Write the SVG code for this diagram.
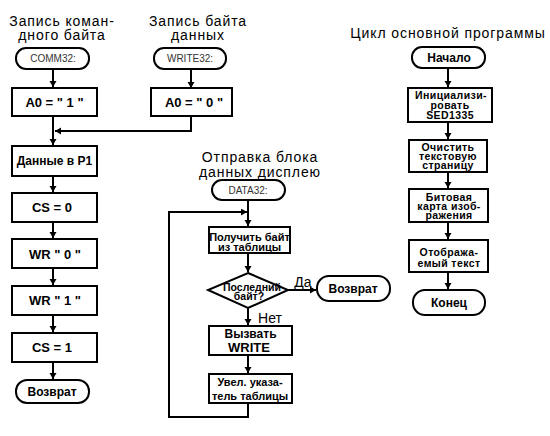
<svg xmlns="http://www.w3.org/2000/svg" width="550" height="436" viewBox="0 0 550 436">
<defs>
<marker id="ah" markerUnits="userSpaceOnUse" markerWidth="8" markerHeight="8" refX="6" refY="3.5" orient="auto">
<path d="M0,0 L6,3.5 L0,7 z" fill="#000"/>
</marker>
<style>
.box{fill:#fff;stroke:#000;stroke-width:2}
.ln{fill:none;stroke:#000;stroke-width:2}
.ar{marker-end:url(#ah)}
text{font-family:"Liberation Sans",Arial,sans-serif;text-anchor:middle;fill:#000}
.ti{font-size:14px;letter-spacing:0.9px}
.lb{font-size:10px;fill:#333}
.b{font-size:12px;font-weight:bold}
.b13{font-size:13px;font-weight:bold}
.s{font-size:11px;font-weight:bold}
.r{font-size:10.5px;font-weight:bold;letter-spacing:0.4px}
.d{font-size:10.5px;font-weight:bold}
.yn{font-size:14px}
</style>
</defs>
<rect width="550" height="436" fill="#fff"/>
<g id="titles">
<text class="ti" x="62" y="26">Запись коман-</text>
<text class="ti" x="62" y="40">дного байта</text>
<text class="ti" x="198" y="26">Запись байта</text>
<text class="ti" x="198" y="40">данных</text>
<text class="ti" x="260" y="162">Отправка блока</text>
<text class="ti" x="260" y="177">данных дисплею</text>
<text class="ti" x="448" y="38">Цикл основной программы</text>
</g>
<g id="connectors">
<path class="ln ar" d="M53,69 V87"/>
<path class="ln ar" d="M191,69 V88"/>
<path class="ln ar" d="M53,116 V145"/>
<path class="ln ar" d="M191,116 V131 H55"/>
<path class="ln ar" d="M53,176 V192"/>
<path class="ln ar" d="M53,222 V238"/>
<path class="ln ar" d="M53,268 V285"/>
<path class="ln ar" d="M53,315 V332"/>
<path class="ln ar" d="M53,362 V379"/>
<path class="ln ar" d="M248,200 V226"/>
<path class="ln ar" d="M248,403 V417 H169 V212 H247"/>
<path class="ln ar" d="M248,253 V272"/>
<path class="ln ar" d="M288,290 H316"/>
<path class="ln ar" d="M248,308 V325"/>
<path class="ln ar" d="M248,355 V373"/>
<path class="ln ar" d="M448,68 V87"/>
<path class="ln ar" d="M448,122 V139"/>
<path class="ln ar" d="M448,172 V188"/>
<path class="ln ar" d="M448,222 V239"/>
<path class="ln ar" d="M448,272 V289"/>
</g>
<g id="comm32"><rect class="box" x="16" y="48" width="73" height="21" rx="10"/><text class="lb" x="53" y="62">COMM32:</text></g>
<g id="a0_1"><rect class="box" x="12" y="88" width="85" height="28"/><text class="b13" x="54.5" y="107">A0 = " 1 "</text></g>
<g id="data_p1"><rect class="box" x="12" y="146" width="85" height="30"/><text class="b" x="54.5" y="165">Данные в P1</text></g>
<g id="cs0"><rect class="box" x="12" y="193" width="85" height="29"/><text class="b13" x="52" y="212">CS = 0</text></g>
<g id="wr0"><rect class="box" x="12" y="239" width="85" height="29"/><text class="b13" x="55" y="259">WR " 0 "</text></g>
<g id="wr1"><rect class="box" x="12" y="286" width="85" height="29"/><text class="b13" x="55" y="305">WR " 1 "</text></g>
<g id="cs1"><rect class="box" x="12" y="333" width="85" height="29"/><text class="b13" x="52" y="352">CS = 1</text></g>
<g id="ret1"><rect class="box" x="16" y="380" width="73" height="23" rx="11"/><text class="b" x="52" y="396">Возврат</text></g>
<g id="write32"><rect class="box" x="154" y="48" width="72" height="21" rx="10"/><text class="lb" x="190" y="62">WRITE32:</text></g>
<g id="a0_0"><rect class="box" x="151" y="88" width="81" height="28"/><text class="b13" x="194" y="107">A0 = " 0 "</text></g>
<g id="data32"><rect class="box" x="212" y="180" width="73" height="20" rx="10"/><text class="lb" x="248" y="194">DATA32:</text></g>
<g id="get"><rect class="box" x="209" y="227" width="81" height="26"/><text class="s" x="249.5" y="241">Получить байт</text><text class="s" x="249.5" y="251">из таблицы</text></g>
<g id="last"><polygon class="box" points="248,273 288,290 248,308 208,290"/><text class="d" x="252" y="291">Последний</text><text class="d" x="249" y="300">байт?</text></g>
<g id="yes"><text class="yn" x="303" y="287">Да</text></g>
<g id="no"><text class="yn" x="270" y="323">Нет</text></g>
<g id="ret2"><rect class="box" x="317" y="276" width="73" height="25" rx="12"/><text class="b" x="353" y="293">Возврат</text></g>
<g id="callw"><rect class="box" x="209" y="326" width="83" height="29"/><text class="b" x="250.5" y="338">Вызвать</text><text class="b13" x="249" y="352">WRITE</text></g>
<g id="inc"><rect class="box" x="209" y="374" width="83" height="29"/><text class="s" x="250" y="386">Увел. указа-</text><text class="s" x="250" y="400">тель таблицы</text></g>
<g id="start"><rect class="box" x="412" y="47" width="73" height="21" rx="10"/><text class="b" x="449" y="62">Начало</text></g>
<g id="init"><rect class="box" x="408" y="88" width="84" height="34"/><text class="r" x="451" y="99">Инициализи-</text><text class="r" x="450" y="109">ровать</text><text class="r" x="450" y="119">SED1335</text></g>
<g id="clear"><rect class="box" x="409" y="140" width="78" height="32"/><text class="r" x="448" y="151">Очистить</text><text class="r" x="448" y="160">текстовую</text><text class="r" x="448" y="169">страницу</text></g>
<g id="bitmap"><rect class="box" x="409" y="189" width="79" height="33"/><text class="r" x="449" y="201">Битовая</text><text class="r" x="449" y="210">карта изоб-</text><text class="r" x="449" y="219">ражения</text></g>
<g id="showtext"><rect class="box" x="409" y="240" width="79" height="32"/><text class="r" x="449" y="256">Отобража-</text><text class="r" x="449" y="267">емый текст</text></g>
<g id="end"><rect class="box" x="413" y="290" width="72" height="25" rx="12"/><text class="b" x="449" y="307">Конец</text></g>
</svg>
